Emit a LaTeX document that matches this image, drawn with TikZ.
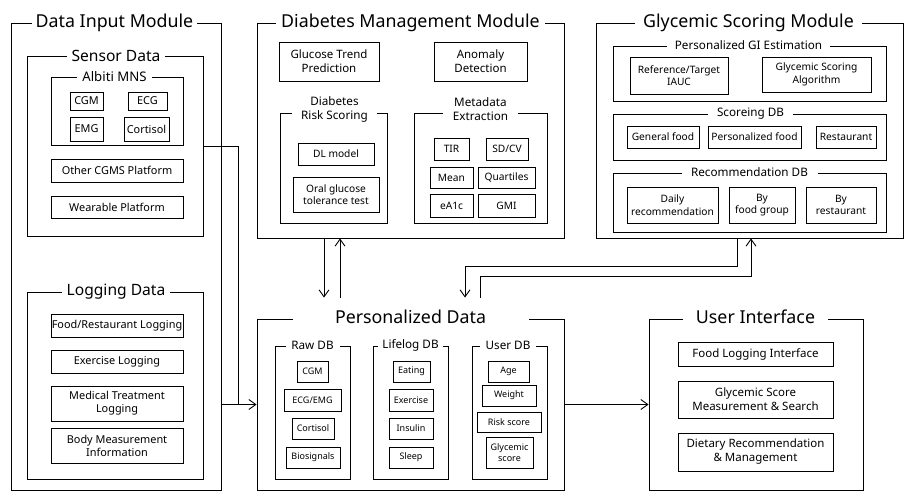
\documentclass[tikz,border=0pt]{standalone}
\usepackage{fontspec}
\setmainfont{Noto Sans}
\usepackage{tikz}
\usetikzlibrary{arrows.meta}
\tikzstyle{frame} = [rectangle, draw=black, line width=0.9pt, inner sep=0pt]
\tikzstyle{bigtitle} = [fill=white, inner xsep=0pt, inner ysep=1pt, font=\fontsize{17.8}{20}\selectfont]
\tikzstyle{midtitle} = [fill=white, inner xsep=0pt, inner ysep=1pt, font=\fontsize{15.6}{18}\selectfont]
\tikzstyle{subtitle} = [fill=white, inner xsep=0pt, inner ysep=1pt, align=center, font=\fontsize{11.7}{14}\selectfont]
\tikzstyle{item} = [rectangle, draw=black, line width=0.9pt, inner sep=0pt, align=center, font=\fontsize{11.5}{14}\selectfont]
\tikzstyle{leftitem} = [item, font=\fontsize{10.9}{13}\selectfont]
\tikzstyle{smallitem} = [item, font=\fontsize{10.2}{12.5}\selectfont]
\tikzstyle{tinyitem} = [item, font=\fontsize{9}{11.5}\selectfont]
\tikzstyle{line} = [line width=0.9pt]
\tikzstyle{arrow} = [line width=0.9pt, -{Straight Barb[length=7pt,width=10pt]}]

\begin{document}
\begin{tikzpicture}[x=1pt, y=-1pt]
\useasboundingbox (0,0) rectangle (919,503);

% Data input module
\node (datain) [frame, minimum width=210pt, minimum height=467pt] at (116,256.5) {};
\node (datainT) [bigtitle, minimum width=165pt] at ([xshift=-1.5pt]datain.north) {Data Input Module};
\node (sensor) [frame, minimum width=176pt, minimum height=180pt] at (115,146) {};
\node (sensorT) [midtitle, minimum width=98pt] at ([xshift=1pt]sensor.north) {Sensor Data};
\node (albiti) [frame, minimum width=132pt, minimum height=68pt] at (117,111) {};
\node (albitiT) [subtitle, minimum width=75pt, font=\fontsize{13.2}{15}\selectfont] at ([xshift=-2.5pt]albiti.north) {Albiti MNS};
\node (cgmA) [leftitem, minimum width=33pt, minimum height=18pt] at (86.5,101) {CGM};
\node (ecgA) [leftitem, minimum width=39pt, minimum height=18pt] at (147.5,101) {ECG};
\node (emgA) [leftitem, minimum width=33pt, minimum height=24pt] at (86.5,129) {EMG};
\node (cortA) [leftitem, minimum width=45pt, minimum height=24pt] at (146.5,129) {Cortisol};
\node (cgms) [leftitem, minimum width=132pt, minimum height=23pt] at (117,170.5) {Other CGMS Platform};
\node (wear) [leftitem, minimum width=132pt, minimum height=22pt] at (117,207) {Wearable Platform};
\node (logging) [frame, minimum width=176pt, minimum height=187pt] at (115,385.5) {};
\node (loggingT) [midtitle, minimum width=108pt] at ([xshift=1pt]logging.north) {Logging Data};
\node (foodlog) [leftitem, minimum width=132pt, minimum height=23pt] at (117,325.5) {Food/Restaurant Logging};
\node (exlog) [leftitem, minimum width=132pt, minimum height=23pt] at (117,361.5) {Exercise Logging};
\node (medlog) [leftitem, minimum width=132pt, minimum height=35pt] at (117,403.5) {Medical Treatment\\Logging};
\node (body) [leftitem, minimum width=132pt, minimum height=35pt] at (117,445.5) {Body Measurement\\Information};

% Diabetes management module
\node (dmm) [frame, minimum width=307pt, minimum height=215pt] at (410.5,130.5) {};
\node (dmmT) [bigtitle, minimum width=269pt] at (dmm.north) {Diabetes Management Module};
\node (trend) [item, minimum width=100pt, minimum height=39pt] at (329,61.5) {Glucose Trend\\Prediction};
\node (anomaly) [item, minimum width=93pt, minimum height=39pt] at (480.5,61.5) {Anomaly\\Detection};
\node (risk) [frame, minimum width=107pt, minimum height=110pt] at (333.5,168) {};
\node (riskT) [subtitle, minimum width=85pt] at ([xshift=1pt,yshift=3pt]risk.north) {Diabetes\\Risk Scoring};
\node (dl) [smallitem, minimum width=76pt, minimum height=22pt] at (336,154) {DL model};
\node (ogtt) [smallitem, minimum width=86pt, minimum height=35pt] at (336,194.5) {Oral glucose\\tolerance test};
\node (meta) [frame, minimum width=133pt, minimum height=110pt] at (480.5,168) {};
\node (metaT) [subtitle, minimum width=75pt] at ([yshift=3pt]meta.north) {Metadata\\Extraction};
\node (tir) [smallitem, minimum width=35pt, minimum height=22pt] at (451.5,149) {TIR};
\node (sdcv) [smallitem, minimum width=42pt, minimum height=22pt] at (507,149) {SD/CV};
\node (mean) [smallitem, minimum width=43pt, minimum height=21pt] at (451.5,177.5) {Mean};
\node (quart) [smallitem, minimum width=57pt, minimum height=21pt] at (506.5,177.5) {Quartiles};
\node (ea1c) [smallitem, minimum width=43pt, minimum height=23pt] at (451.5,205.5) {eA1c};
\node (gmi) [smallitem, minimum width=57pt, minimum height=23pt] at (506.5,205.5) {GMI};

% Glycemic scoring module
\node (gsm) [frame, minimum width=307pt, minimum height=215pt] at (749.5,130.5) {};
\node (gsmT) [bigtitle, minimum width=227pt] at ([xshift=-1pt]gsm.north) {Glycemic Scoring Module};
\node (pgi) [frame, minimum width=273pt, minimum height=55pt] at (749.5,73.5) {};
\node (pgiT) [subtitle, minimum width=163pt] at ([xshift=-1pt]pgi.north) {Personalized GI Estimation};
\node (iauc) [smallitem, minimum width=98pt, minimum height=37pt] at (679,75.5) {Reference/Target\\IAUC};
\node (gsalg) [smallitem, minimum width=109pt, minimum height=35pt] at (816.5,74.5) {Glycemic Scoring\\Algorithm};
\node (scdb) [frame, minimum width=273pt, minimum height=46pt] at (749.5,137) {};
\node (scdbT) [subtitle, minimum width=85pt] at ([xshift=1pt]scdb.north) {Scoreing DB};
\node (genfood) [smallitem, minimum width=72pt, minimum height=22pt] at (663,137) {General food};
\node (persfood) [smallitem, minimum width=93pt, minimum height=22pt] at (754.5,137) {Personalized food};
\node (rest) [smallitem, minimum width=60pt, minimum height=22pt] at (846,137) {Restaurant};
\node (recdb) [frame, minimum width=273pt, minimum height=59pt] at (749.5,202.5) {};
\node (recdbT) [subtitle, minimum width=136pt] at (recdb.north) {Recommendation DB};
\node (daily) [smallitem, minimum width=91pt, minimum height=36pt] at (672.5,205) {Daily\\recommendation};
\node (bygroup) [smallitem, minimum width=66pt, minimum height=36pt] at (762,205) {By\\food group};
\node (byrest) [smallitem, minimum width=70pt, minimum height=36pt] at (841,205) {By\\restaurant};

% Personalized data
\node (pdata) [frame, minimum width=307pt, minimum height=171pt] at (410.5,404.5) {};
\node (pdataT) [bigtitle, minimum width=236pt] at ([yshift=2pt]pdata.north) {Personalized Data};
\node (raw) [frame, minimum width=75pt, minimum height=133pt] at (312.5,412.5) {};
\node (rawT) [subtitle, minimum width=54pt] at (raw.north) {Raw DB};
\node (rcgm) [tinyitem, minimum width=31pt, minimum height=21pt] at (312.5,371.5) {CGM};
\node (recg) [tinyitem, minimum width=57pt, minimum height=22pt] at (312.5,400) {ECG/EMG};
\node (rcort) [tinyitem, minimum width=42pt, minimum height=21pt] at (313,428.5) {Cortisol};
\node (rbio) [tinyitem, minimum width=54pt, minimum height=21pt] at (313,457.5) {Biosignals};
\node (life) [frame, minimum width=75pt, minimum height=133pt] at (410.5,412.5) {};
\node (lifeT) [subtitle, minimum width=65pt] at (life.north) {Lifelog DB};
\node (eat) [tinyitem, minimum width=37pt, minimum height=21pt] at (411.5,371.5) {Eating};
\node (exer) [tinyitem, minimum width=44pt, minimum height=22pt] at (411,400) {Exercise};
\node (insul) [tinyitem, minimum width=44pt, minimum height=21pt] at (411,428.5) {Insulin};
\node (sleep) [tinyitem, minimum width=44pt, minimum height=21pt] at (411,457.5) {Sleep};
\node (user) [frame, minimum width=75pt, minimum height=133pt] at (509.5,412.5) {};
\node (userT) [subtitle, minimum width=56pt] at ([xshift=-1.5pt]user.north) {User DB};
\node (age) [tinyitem, minimum width=41pt, minimum height=21pt] at (508.5,371.5) {Age};
\node (weight) [tinyitem, minimum width=54pt, minimum height=21pt] at (509,395.5) {Weight};
\node (rscore) [tinyitem, minimum width=64pt, minimum height=20pt] at (509,422) {Risk score};
\node (gscore) [tinyitem, minimum width=47pt, minimum height=31pt] at (509.5,452.5) {Glycemic\\score};

% User interface
\node (ui) [frame, minimum width=214pt, minimum height=171pt] at (756,404.5) {};
\node (uiT) [bigtitle, minimum width=145pt] at ([xshift=-0.5pt,yshift=2pt]ui.north) {User Interface};
\node (foodui) [item, minimum width=155pt, minimum height=24pt] at (755.5,354) {Food Logging Interface};
\node (gsms) [item, minimum width=155pt, minimum height=37pt] at (755.5,399.5) {Glycemic Score\\Measurement \& Search};
\node (diet) [item, minimum width=155pt, minimum height=38pt] at (755.5,452) {Dietary Recommendation\\\& Management};

% Arrows
\coordinate (merge) at (238,404.5);
\draw [line] (sensor.east) -| (merge);
\draw [arrow] (datain.east |- pdata.west) -- (pdata.west);
\draw [arrow] ([xshift=-86.5pt]dmm.south) -- ([xshift=-86.5pt,yshift=21pt]pdata.north);
\draw [arrow] ([xshift=-70.5pt,yshift=21pt]pdata.north) -- ([xshift=-70.5pt]dmm.south);
\draw [arrow] ([xshift=-12.5pt]gsm.south) -- ++(0,28) -| ([xshift=54.5pt,yshift=21pt]pdata.north);
\draw [arrow] ([xshift=69.5pt,yshift=21pt]pdata.north) -- ++(0,-21) -| ([xshift=1.5pt]gsm.south);
\draw [arrow] (pdata.east) -- (ui.west);

\end{tikzpicture}
\end{document}
